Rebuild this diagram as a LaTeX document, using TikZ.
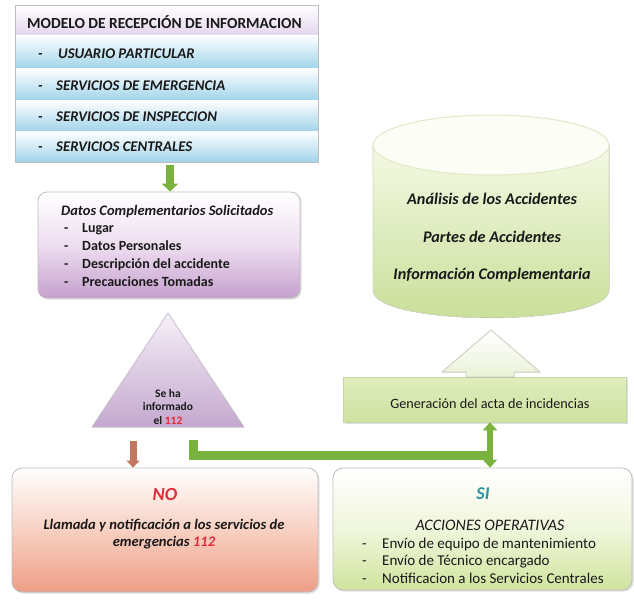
\documentclass[tikz,border=0pt]{standalone}
\usepackage{fontspec}
\setmainfont{Carlito}
\usetikzlibrary{arrows.meta,calc,shadows}
\definecolor{txt}{RGB}{25,25,25}
\definecolor{rowblue}{RGB}{162,212,234}
\definecolor{titlelav}{RGB}{228,214,238}
\definecolor{purp}{RGB}{198,160,206}
\definecolor{tripurp}{RGB}{196,168,206}
\definecolor{salmon}{RGB}{238,158,134}
\definecolor{lgreen}{RGB}{208,228,158}
\definecolor{cylgreen}{RGB}{200,222,150}
\definecolor{gengreen}{RGB}{206,226,160}
\definecolor{arrgreen}{RGB}{122,178,62}
\definecolor{redarr}{RGB}{196,118,96}
\definecolor{nored}{RGB}{226,44,58}
\definecolor{siteal}{RGB}{40,150,160}
\tikzset{
  lbl/.style={inner sep=0pt, text=txt, anchor=base west},
  ctr/.style={inner sep=0pt, text=txt, anchor=base},
  boxline/.style={draw={rgb,255:red,190;green,190;blue,190}, line width=0.8pt},
  rowband/.style={top color=white, bottom color=rowblue},
  sh/.style={drop shadow={opacity=0.25, shadow xshift=1.5pt, shadow yshift=-1.5pt}},
  rowfont/.style={font=\bfseries\itshape\fontsize{14.8}{17}\selectfont},
  datfont/.style={font=\bfseries\fontsize{14}{16}\selectfont},
  cylfont/.style={font=\bfseries\itshape\fontsize{16.2}{19}\selectfont},
  nofont/.style={font=\bfseries\itshape\fontsize{14.6}{17}\selectfont},
  sifont/.style={font=\fontsize{15}{17}\selectfont}
}
\begin{document}
\begin{tikzpicture}[x=1pt,y=-1pt]
\useasboundingbox (0,0) rectangle (634,600);

% ---------- top box ----------
\fill[top color=white, bottom color=titlelav] (15,5) rectangle (318,35);
\fill[rowband] (15,35) rectangle (318,68);
\fill[rowband] (15,68) rectangle (318,100);
\fill[rowband] (15,100) rectangle (318,131);
\fill[rowband] (15,131) rectangle (318,162);
\node[boxline, minimum width=303pt, minimum height=157pt, inner sep=0pt] (top) at (166.5,83.5) {};
\node[lbl, font=\bfseries\fontsize{15.4}{17}\selectfont] (title) at (27,28) {MODELO DE RECEPCIÓN DE INFORMACION};
\node[lbl, rowfont] (r1d) at (38,58) {-};
\node[lbl, rowfont] (r1) at (58,58) {USUARIO PARTICULAR};
\node[lbl, rowfont] (r2d) at (38,90) {-};
\node[lbl, rowfont] (r2) at (56,90) {SERVICIOS DE EMERGENCIA};
\node[lbl, rowfont] (r3d) at (38,121) {-};
\node[lbl, rowfont] (r3) at (56,121) {SERVICIOS DE INSPECCION};
\node[lbl, rowfont] (r4d) at (38,151) {-};
\node[lbl, rowfont] (r4) at (56,151) {SERVICIOS CENTRALES};

% ---------- purple box ----------
\node[boxline, sh, rounded corners=9pt, top color=white, bottom color=purp, middle color={rgb,255:red,238;green,222;blue,240},
      minimum width=262pt, minimum height=106pt, inner sep=0pt] (datos) at (169,245) {};
\node[lbl, font=\bfseries\itshape\fontsize{14.5}{17}\selectfont] (dt) at (61,215) {Datos Complementarios Solicitados};
\node[lbl, datfont] at (64,232) {-};
\node[lbl, datfont] at (82,232) {Lugar};
\node[lbl, datfont] at (64,250) {-};
\node[lbl, datfont] at (82,250) {Datos Personales};
\node[lbl, datfont] at (64,268) {-};
\node[lbl, datfont] at (82,268) {Descripción del accidente};
\node[lbl, datfont] at (64,286) {-};
\node[lbl, datfont] at (82,286) {Precauciones Tomadas};

% small green arrow top -> datos
\draw[arrgreen, line width=8pt, -{Triangle[width=16pt,length=8pt]}] (top.south -| 170,0) ++(0,3) -- (datos.north -| 170,0);

% ---------- triangle ----------
\coordinate (triA) at (168,313);
\coordinate (triR) at (244,427);
\coordinate (triL) at (92,427);
\fill[top color={rgb,255:red,246;green,240;blue,248}, bottom color=tripurp, draw={rgb,255:red,200;green,190;blue,205}, line width=0.6pt]
  (triA) -- (triR) -- (triL) -- cycle;
\node[ctr, font=\bfseries\fontsize{11.5}{13}\selectfont] (tri1) at (168,397) {Se ha};
\node[ctr, font=\bfseries\fontsize{11.5}{13}\selectfont] (tri2) at (168,410) {informado};
\node[ctr, font=\bfseries\fontsize{11.5}{13}\selectfont] (tri3) at (168,424) {el \textcolor{nored}{112}};

% ---------- cylinder ----------
\coordinate (cylTL) at (373,145);
\coordinate (cylTR) at (609,145);
\coordinate (cylBR) at (609,290);
\coordinate (cylBL) at (373,290);
\fill[top color={rgb,255:red,244;green,249;blue,228}, bottom color=cylgreen, draw={rgb,255:red,205;green,215;blue,185}, line width=0.8pt]
  (cylTL) -- (cylBL) .. controls (373,327) and (609,327) .. (cylBR) -- (cylTR) -- cycle;
\fill[fill={rgb,255:red,252;green,253;blue,244}, draw={rgb,255:red,225;green,232;blue,200}, line width=1pt]
  (491,145) ellipse [x radius=118pt, y radius=30pt];
\node[ctr, cylfont] (c1) at (492,204) {Análisis de los Accidentes};
\node[ctr, cylfont] (c2) at (492,242) {Partes de Accidentes};
\node[ctr, cylfont] (c3) at (492,279) {Información Complementaria};

% ---------- generación box ----------
\node[sh, top color={rgb,255:red,224;green,237;blue,190}, bottom color=gengreen, draw={rgb,255:red,200;green,212;blue,170}, line width=0.6pt,
      minimum width=283pt, minimum height=45pt, inner sep=0pt] (gen) at (484.5,399.5) {};
\node[ctr, font=\fontsize{14.2}{16}\selectfont] (gent) at (490,408) {Generación del acta de incidencias};

% hollow up arrow gen -> cylinder
\fill[top color=white, bottom color={rgb,255:red,234;green,242;blue,214}, draw={rgb,255:red,205;green,210;blue,195}, line width=0.8pt]
  (491,330) -- (540,372) -- (514,372) -- (514,377) -- (466,377) -- (466,372) -- (442,372) -- cycle;

% ---------- NO box ----------
\node[boxline, sh, rounded corners=10pt, top color=white, bottom color=salmon, middle color={rgb,255:red,248;green,208;blue,194},
      minimum width=306pt, minimum height=124pt, inner sep=0pt] (no) at (165,530) {};
\node[ctr, font=\bfseries\itshape\fontsize{18.5}{21}\selectfont, text=nored] (not) at (165,500) {NO};
\node[ctr, nofont] (no1) at (164,529) {Llamada y notificación a los servicios de};
\node[ctr, nofont] (no2) at (164,546) {emergencias \textcolor{nored}{112}};

% ---------- SI box ----------
\node[boxline, sh, rounded corners=10pt, top color=white, bottom color=lgreen, middle color={rgb,255:red,240;green,246;blue,220},
      minimum width=299pt, minimum height=122pt, inner sep=0pt] (si) at (482.5,529) {};
\node[ctr, font=\bfseries\itshape\fontsize{18}{21}\selectfont, text=siteal] (sit) at (483,499) {SI};
\node[ctr, font=\itshape\fontsize{16}{18}\selectfont] (si0) at (490,530) {ACCIONES OPERATIVAS};
\node[lbl, sifont] at (362,548) {-};
\node[lbl, sifont] at (382,548) {Envío de equipo de mantenimiento};
\node[lbl, sifont] at (362,565) {-};
\node[lbl, sifont] at (382,565) {Envío de Técnico encargado};
\node[lbl, sifont] at (362,583) {-};
\node[lbl, sifont] at (382,583) {Notificacion a los Servicios Centrales};

% ---------- connectors ----------
\coordinate (gstart) at (193,440);
\coordinate (nostart) at (133,441);
\draw[redarr, line width=7pt, -{Triangle[width=13pt,length=7pt]}] (nostart) -- (no.north -| nostart);
\draw[arrgreen, line width=9pt] (gstart) |- (490,455);
\draw[arrgreen, line width=6pt, {Triangle[width=14pt,length=8pt]}-{Triangle[width=14pt,length=8pt]}] (gen.south -| 490,0) -- (si.north -| 490,0);
\end{tikzpicture}
\end{document}
